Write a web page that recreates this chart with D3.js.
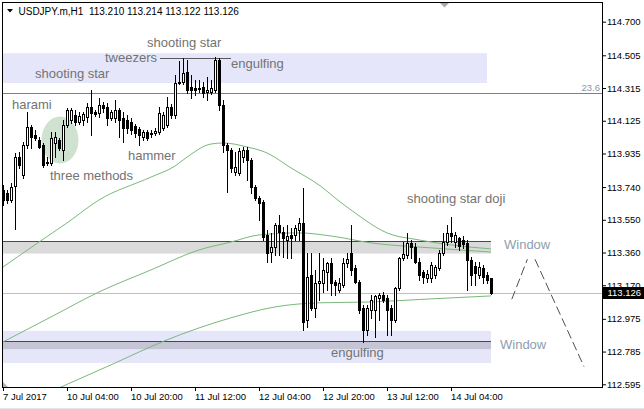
<!DOCTYPE html>
<html><head><meta charset="utf-8">
<script src="https://cdn.jsdelivr.net/npm/d3@7"></script>
<style>
html,body{margin:0;padding:0;background:#fff;}
svg{display:block;}
</style></head><body>
<svg id="c" width="644" height="409"></svg>
<script>
// ---------- DATA (USDJPY.m, H1) ----------
const opens=[
113.723,113.706,113.665,113.746,113.914,113.810,113.984,114.089,114.042,114.013,
113.984,113.886,113.880,113.996,114.013,113.955,114.101,114.130,114.159,114.118,
114.130,114.147,114.205,114.176,114.170,114.217,114.205,114.141,114.141,114.188,
114.141,114.130,114.118,114.095,114.077,114.030,114.060,114.048,114.054,114.060,
114.083,114.101,114.205,114.159,114.350,114.350,114.408,114.321,114.315,114.315,
114.321,114.292,114.292,114.304,114.478,114.217,113.984,113.955,113.828,113.822,
113.914,113.955,113.897,113.741,113.677,113.653,113.462,113.363,113.392,113.520,
113.479,113.433,113.462,113.462,113.491,113.532,112.969,113.230,113.038,113.183,
113.183,113.247,113.300,113.189,113.143,113.172,113.300,113.358,113.270,113.189,
113.038,112.911,113.027,113.027,113.097,113.114,113.097,113.038,112.969,113.154,
113.329,113.346,113.416,113.392,113.305,113.247,113.212,113.212,113.230,113.270,
113.358,113.421,113.474,113.421,113.445,113.433,113.416,113.317,113.282,113.230,
113.270,113.230,113.210];
const highs=[
113.752,113.723,113.764,113.938,113.943,114.001,114.176,114.101,114.071,114.030,
113.996,113.914,114.060,114.060,114.025,114.130,114.199,114.199,114.188,114.176,
114.176,114.228,114.304,114.188,114.257,114.234,114.228,114.188,114.246,114.199,
114.176,114.159,114.141,114.106,114.089,114.071,114.071,114.071,114.083,114.205,
114.176,114.263,114.223,114.391,114.472,114.489,114.478,114.391,114.362,114.362,
114.350,114.379,114.362,114.495,114.489,114.246,113.996,113.967,113.944,113.967,
113.973,113.973,113.909,113.752,113.688,113.665,113.491,113.474,113.532,113.578,
113.509,113.520,113.503,113.520,113.561,113.735,113.358,113.358,113.259,113.358,
113.329,113.305,113.329,113.201,113.212,113.329,113.358,113.520,113.288,113.201,
113.056,113.056,113.114,113.114,113.126,113.131,113.114,113.056,113.160,113.334,
113.421,113.474,113.433,113.416,113.329,113.259,113.259,113.305,113.288,113.375,
113.474,113.520,113.567,113.479,113.450,113.456,113.433,113.334,113.305,113.305,
113.288,113.247,113.214];
const lows=[
113.636,113.648,113.653,113.497,113.851,113.793,113.967,113.967,114.013,113.967,
113.857,113.868,113.868,113.914,113.955,113.897,114.089,114.112,114.101,114.106,
114.101,114.118,114.042,114.153,114.147,114.176,114.101,114.130,114.118,114.030,
114.002,114.054,114.048,114.030,113.984,114.013,114.013,114.030,114.042,114.048,
114.071,114.089,114.141,114.141,114.338,114.338,114.286,114.257,114.275,114.292,
114.263,114.246,114.280,114.292,114.188,113.944,113.712,113.828,113.810,113.810,
113.886,113.781,113.706,113.665,113.549,113.433,113.305,113.305,113.346,113.346,
113.334,113.328,113.328,113.433,113.433,112.911,112.928,113.027,112.986,113.085,
113.131,113.143,113.114,113.114,113.131,113.160,113.276,113.230,113.183,113.009,
112.841,112.882,112.981,112.870,112.969,113.073,112.882,112.882,112.957,113.143,
113.317,113.329,113.329,113.300,113.201,113.183,113.189,113.189,113.212,113.259,
113.346,113.404,113.421,113.392,113.375,113.387,113.143,113.172,113.172,113.212,
113.183,113.183,113.122];
const closes=[
113.665,113.665,113.740,113.914,113.868,113.984,114.089,114.030,114.025,113.973,
113.868,113.880,114.025,114.030,113.967,114.101,114.188,114.188,114.118,114.153,
114.165,114.205,114.170,114.165,114.217,114.199,114.141,114.176,114.188,114.130,
114.083,114.083,114.071,114.054,114.042,114.060,114.025,114.054,114.066,114.170,
114.159,114.205,114.159,114.344,114.344,114.402,114.304,114.304,114.304,114.310,
114.286,114.304,114.315,114.478,114.217,113.984,113.955,113.851,113.857,113.950,
113.955,113.897,113.741,113.677,113.648,113.450,113.358,113.392,113.520,113.479,
113.445,113.456,113.445,113.503,113.532,112.957,113.218,113.038,113.183,113.195,
113.259,113.300,113.183,113.172,113.183,113.300,113.323,113.259,113.189,113.027,
112.911,113.038,113.085,113.108,113.114,113.085,113.027,112.969,113.154,113.329,
113.352,113.416,113.392,113.305,113.230,113.218,113.236,113.288,113.276,113.358,
113.421,113.474,113.456,113.462,113.398,113.410,113.317,113.230,113.242,113.276,
113.218,113.201,113.126];

// moving averages: [bar index, price]
const maFast=[[0,113.276],[9,113.421],[16,113.532],[24,113.665],[37,113.798],[43,113.862],[46,113.914],[52,113.990],[55,113.996],[61,113.973],[66,113.938],[72,113.851],[79,113.752],[84,113.659],[88,113.590],[96,113.474],[104,113.433],[112,113.404],[122,113.381]];
const maMid=[[0,112.841],[12,112.986],[24,113.131],[37,113.259],[49,113.375],[57,113.421],[64,113.462],[74,113.474],[82,113.456],[92,113.416],[107,113.387],[122,113.363]];
const maSlow=[[14,112.574],[27,112.708],[41,112.853],[57,112.981],[68,113.044],[79,113.068],[92,113.073],[107,113.091],[122,113.108]];

const priceTicks=[114.700,114.505,114.315,114.125,113.935,113.740,113.550,113.360,113.170,112.975,112.785,112.595];
const timeTickIdx=[0,16,32,48,64,80,96,112];
const timeTickLabels=["7 Jul 2017","10 Jul 04:00","10 Jul 20:00","11 Jul 12:00","12 Jul 04:00","12 Jul 20:00","13 Jul 12:00","14 Jul 04:00"];

const titleSymbol="USDJPY.m,H1";
const titleOHLC=[113.210,113.214,113.122,113.126];
const lastPrice=113.126;
const fibLevel=114.285, fibLabel="23.6";
// zones: [from bar, to bar, top price, bottom price]
const zoneUpper=[-5,121,114.517,114.344];
const zoneMidGray=[-5,122,113.426,113.354];
const zoneLowBlue=[-5,122,112.905,112.719];
const zoneLowGray=[-5,122,112.845,112.799];
const tweezersLine=[[39.25,114.489],[57,114.489]];
const windowPathA=[[127.2,113.089],[131.1,113.321]];
const windowPathB=[[133,113.321],[145.25,112.698]];
// text annotations: [text, bar index, price]
const notes=[
 ["shooting star",36,114.553],
 ["tweezers",25.5,114.466],
 ["engulfing",57,114.431],
 ["shooting star",8,114.373],
 ["harami",2.25,114.193],
 ["hammer",31.25,113.897],
 ["three methods",11.75,113.781],
 ["shooting star doji",101,113.648],
 ["engulfing",82,112.754]
];
const windowNotes=[["Window",125.25,113.381],["Window",124.25,112.800]];
const ellipseNote=[14.25,114.013]; // centre of "three methods" highlight

// ---------- DRAWING ----------
const W=644,H=409;
const L=2,T=2,R=602,B=387;
const FONT='"Liberation Sans", Arial, sans-serif';
const x=d3.scaleLinear().domain([0,122]).range([3,491]);
const y=d3.scaleLinear().domain([112.595,114.700]).range([384.3,21.7]);
const svg=d3.select('#c');
svg.append('rect').attr('width',W).attr('height',H).attr('fill','#fff');
svg.append('rect').attr('x',0).attr('y',408).attr('width',W).attr('height',1).attr('fill','#e6e6e6');
svg.append('defs').append('clipPath').attr('id','clip')
  .append('rect').attr('x',L+1).attr('y',T+1).attr('width',R-L-1).attr('height',B-T-1);
const g=svg.append('g').attr('clip-path','url(#clip)');

function zone(z,fill){
  g.append('rect').attr('x',x(z[0])).attr('y',y(z[2]))
   .attr('width',x(z[1])-x(z[0])).attr('height',y(z[3])-y(z[2])).attr('fill',fill);
}
zone(zoneUpper,'#e6e6fa');
zone(zoneMidGray,'#dadada');
zone(zoneLowBlue,'#e6e6fa');
zone(zoneLowGray,'#c5c5d5');
[zoneMidGray,zoneLowGray].forEach(z=>{
  g.append('line').attr('x1',x(z[0])).attr('x2',x(z[1]))
   .attr('y1',Math.round(y(z[2]))+0.5).attr('y2',Math.round(y(z[2]))+0.5)
   .attr('stroke','#3f4f4f').attr('stroke-width',1);
});
g.append('ellipse').attr('cx',x(ellipseNote[0])).attr('cy',y(ellipseNote[1]))
  .attr('rx',18.5).attr('ry',23.5).attr('fill','#cfe2cf');
g.append('line').attr('x1',L).attr('x2',R).attr('y1',Math.round(y(fibLevel))+0.5).attr('y2',Math.round(y(fibLevel))+0.5)
  .attr('stroke','#808080');
g.append('line').attr('x1',L).attr('x2',R).attr('y1',Math.round(y(lastPrice))+0.5).attr('y2',Math.round(y(lastPrice))+0.5)
  .attr('stroke','#c0c0c0');
g.append('line').attr('x1',x(tweezersLine[0][0])).attr('x2',x(tweezersLine[1][0]))
  .attr('y1',Math.round(y(tweezersLine[0][1]))+0.5).attr('y2',Math.round(y(tweezersLine[1][1]))+0.5)
  .attr('stroke','#5a5a5a');

const line=d3.line().x(d=>x(d[0])).y(d=>y(d[1])).curve(d3.curveMonotoneX);
[maFast,maMid,maSlow].forEach(m=>{
  g.append('path').attr('d',line(m)).attr('fill','none').attr('stroke','#7cb87c').attr('stroke-width',1);
});

const cg=g.append('g').attr('shape-rendering','crispEdges');
const yr=v=>Math.round(y(v));
opens.forEach((o,i)=>{
  const c=closes[i],h=highs[i],l=lows[i];
  const xc=Math.round(x(i));
  const yh=yr(h),yl=yr(l),yo=yr(o),yc=yr(c);
  cg.append('rect').attr('x',xc).attr('y',yh).attr('width',1).attr('height',yl-yh+1).attr('fill','#000');
  const top=Math.min(yo,yc),bot=Math.max(yo,yc);
  cg.append('rect').attr('x',xc-1).attr('y',top).attr('width',3).attr('height',bot-top+1).attr('fill','#000');
  if(c>o && bot-top>=2)
    cg.append('rect').attr('x',xc).attr('y',top+1).attr('width',1).attr('height',bot-top-1).attr('fill','#fff');
});

const pl=d3.line().x(d=>x(d[0])).y(d=>y(d[1]));
[windowPathA,windowPathB].forEach(p=>{
  g.append('path').attr('d',pl(p)).attr('fill','none').attr('stroke','#505050')
   .attr('stroke-width',1).attr('stroke-dasharray','9,4');
});

notes.forEach(n=>{
  g.append('text').attr('x',x(n[1])).attr('y',y(n[2])).text(n[0])
   .attr('font-family',FONT).attr('font-size',13).attr('fill','#737373');
});
windowNotes.forEach(n=>{
  g.append('text').attr('x',x(n[1])).attr('y',y(n[2])).text(n[0])
   .attr('font-family',FONT).attr('font-size',13).attr('fill','#8d9db0');
});
g.append('text').attr('x',600).attr('y',Math.round(y(fibLevel))-2.5).attr('text-anchor','end')
  .text(fibLabel).attr('font-family',FONT).attr('font-size',9.5).attr('fill','#8896a8');

svg.append('rect').attr('x',L+0.5).attr('y',T+0.5).attr('width',R-L).attr('height',B-T)
  .attr('fill','none').attr('stroke','#000').attr('shape-rendering','crispEdges');

const ya=d3.axisRight(y).tickValues(priceTicks).tickSize(4).tickPadding(1).tickFormat(d3.format('.3f'));
const yg=svg.append('g').attr('transform',`translate(${R},0)`).call(ya);
yg.select('.domain').remove();
yg.attr('font-family',FONT).attr('font-size',9.5);
yg.selectAll('text').attr('fill','#000');
yg.selectAll('line').attr('stroke','#000');

const xa=d3.axisBottom(x).tickValues(timeTickIdx).tickSize(4).tickPadding(2).tickFormat((d,k)=>timeTickLabels[k]);
const xg=svg.append('g').attr('transform',`translate(0,${B})`).call(xa);
xg.select('.domain').remove();
xg.attr('font-family',FONT).attr('font-size',9.5);
xg.selectAll('text').attr('text-anchor','start').attr('dx','-0.5').attr('fill','#000');
xg.selectAll('line').attr('stroke','#000');

// last price box (covers the lower half of the 113.170 tick label, as in the terminal)
const ylp=y(lastPrice);
svg.append('rect').attr('x',R+1).attr('y',Math.round(ylp)-6).attr('width',W-R-1).attr('height',12).attr('fill','#000');
svg.append('text').attr('x',R+5.5).attr('y',ylp).attr('dy','0.34em').text(d3.format('.3f')(lastPrice))
  .attr('font-family',FONT).attr('font-size',9.5).attr('fill','#fff');

svg.append('path').attr('d','M7,9L13,9L10,12.5Z').attr('fill','#000');
svg.append('text').attr('x',18.5).attr('y',14.5).style('white-space','pre')
  .text(titleSymbol+'  '+titleOHLC.map(d3.format('.3f')).join(' '))
  .attr('font-family',FONT).attr('font-size',10).attr('fill','#000');
svg.append('path').attr('d','M440,3L449,3L444.5,7.5Z').attr('fill','#a8a8a8');
svg.append('path').attr('d','M3,382L3,387L8,387Z').attr('fill','#b4b4b4');
</script>
</body></html>
